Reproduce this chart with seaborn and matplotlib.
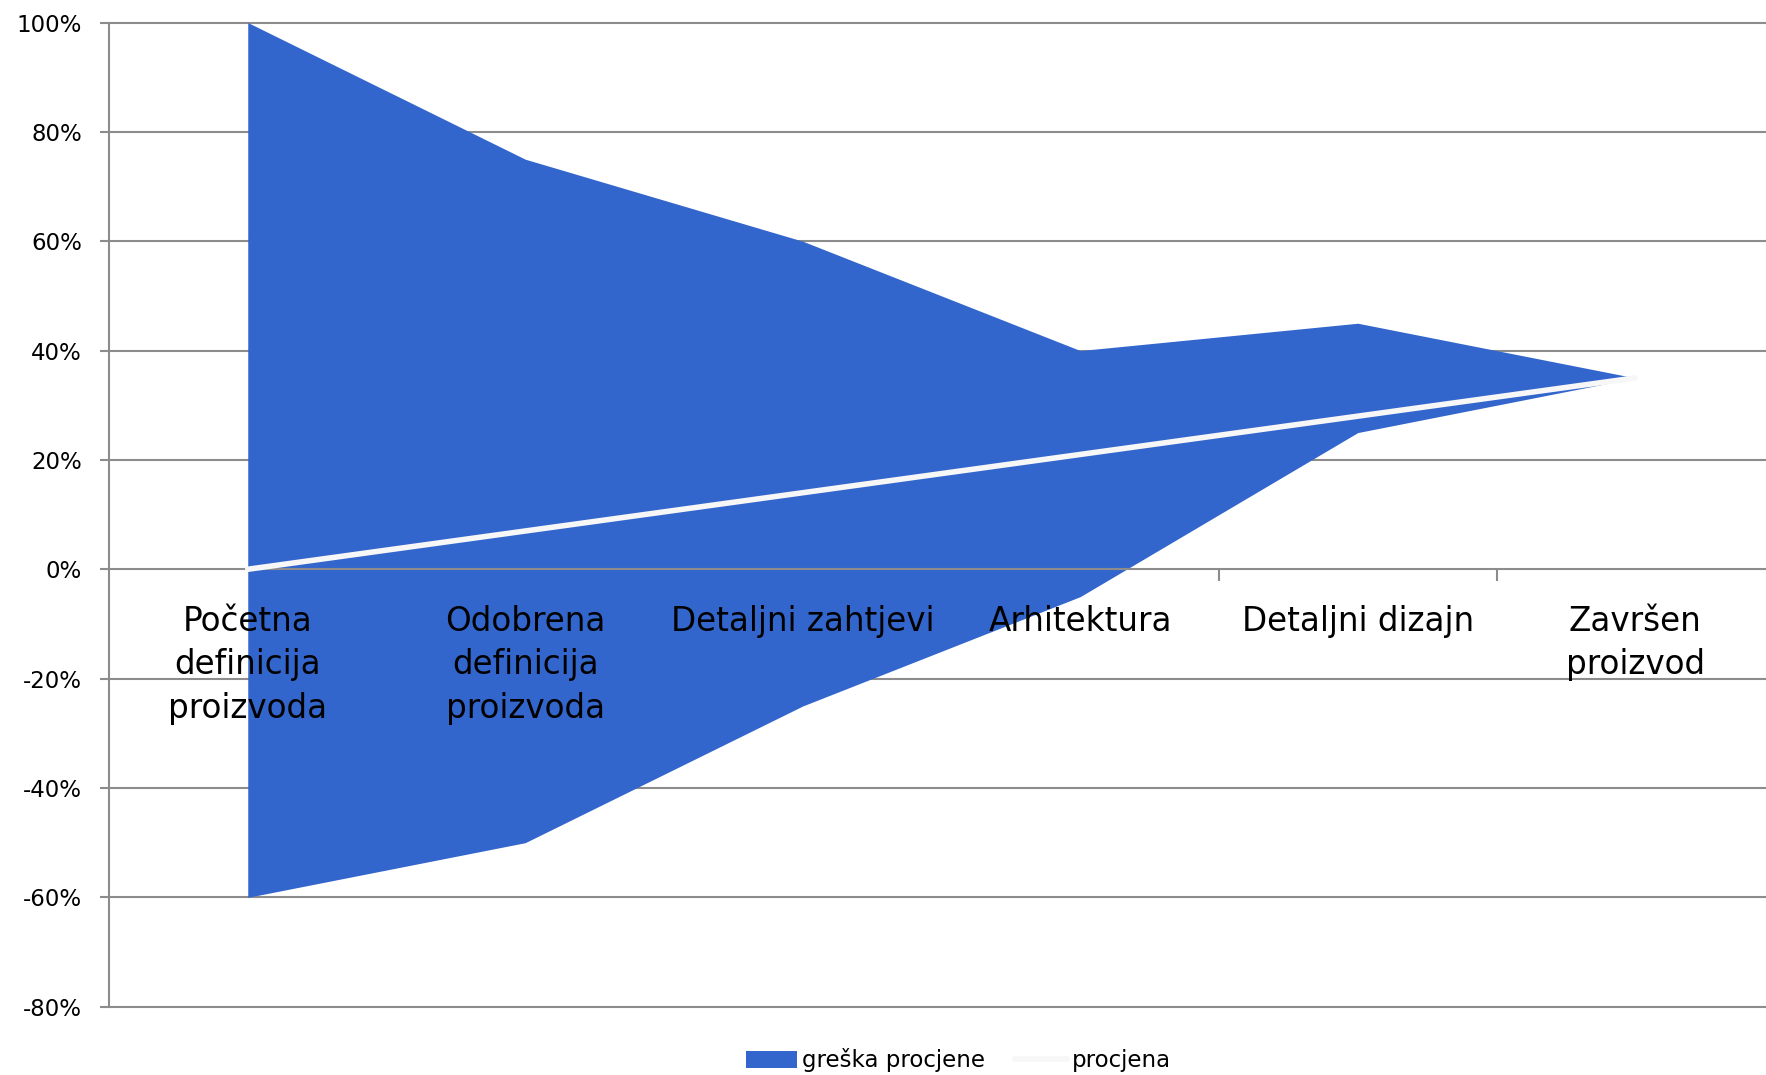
import matplotlib.pyplot as plt
import numpy as np
import pandas as pd
import seaborn as sns
from matplotlib.lines import Line2D
from matplotlib.patches import Patch

# chart values
categories = ['Početna\ndefinicija\nproizvoda', 'Odobrena\ndefinicija\nproizvoda',
              'Detaljni zahtjevi', 'Arhitektura', 'Detaljni dizajn', 'Završen\nproizvod']
upper = [100, 75, 60, 40, 45, 35]     # gornja granica greške
lower = [-60, -50, -25, -5, 25, 35]   # donja granica greške
estimate = [0, 7, 14, 21, 28, 35]     # procjena
y_ticks = [100, 80, 60, 40, 20, 0, -20, -40, -60, -80]

BLUE = '#3366CC'
GRID = '#8c8c8c'
LINE = '#f7f7f7'

sns.set_theme(style='white')
plt.rcParams['font.family'] = ['DejaVu Sans']

df = pd.DataFrame({'pos': np.arange(len(categories)), 'upper': upper,
                   'lower': lower, 'procjena': estimate})

fig = plt.figure(figsize=(17.66, 10.75), dpi=100)
ax = fig.add_axes([109 / 1766, 1 - 1006.7 / 1075, 1665 / 1766, 984.2 / 1075])

# horizontal gridlines behind the area
for v in y_ticks:
    if v != 0:
        ax.axhline(v, color=GRID, lw=1.5, zorder=0, clip_on=False)

ax.fill_between(df['pos'], df['lower'], df['upper'], color=BLUE, lw=0, zorder=1)
sns.lineplot(data=df, x='pos', y='procjena', ax=ax, color=LINE, lw=4,
             zorder=3, legend=False)

ax.set_xlim(-0.5, len(categories) - 0.5)
ax.set_ylim(-80, 100)
ax.set_xlabel('')
ax.set_ylabel('')

# category axis sits on the 0% line
for s in ['top', 'right']:
    ax.spines[s].set_visible(False)
ax.spines['bottom'].set_position(('data', 0))
ax.spines['bottom'].set_color(GRID)
ax.spines['bottom'].set_linewidth(1.5)
ax.spines['bottom'].set_zorder(2)
ax.spines['left'].set_color(GRID)
ax.spines['left'].set_linewidth(1.5)

ax.set_xticks(np.arange(len(categories) - 1) + 0.5)
ax.tick_params(axis='x', bottom=True, direction='out', length=8.5, width=1.5,
               color=GRID, labelbottom=False)
ax.set_yticks(y_ticks)
ax.set_yticklabels([f'{v}%' for v in y_ticks])
ax.tick_params(axis='y', left=True, direction='out', length=6.5, width=1.5,
               color=GRID, pad=13, labelsize=16.5, labelcolor='black')

for i, cat in enumerate(categories):
    ax.annotate(cat, xy=(i, 0), xytext=(0, -25.5), textcoords='offset points',
                ha='center', va='top', fontsize=23.5, linespacing=1.41,
                color='black', zorder=4, annotation_clip=False)

handles = [Patch(facecolor=BLUE, edgecolor='none'),
           Line2D([], [], color=LINE, lw=4)]
fig.legend(handles, ['greška procjene', 'procjena'], loc='center',
           bbox_to_anchor=(958.3 / 1766, 1 - 1060.5 / 1075), ncol=2,
           frameon=False, fontsize=16.5, handlelength=2.25, handletextpad=0.22,
           columnspacing=1.3, handleheight=0.7, labelcolor='black')

fig.savefig('out.png', dpi=100)
